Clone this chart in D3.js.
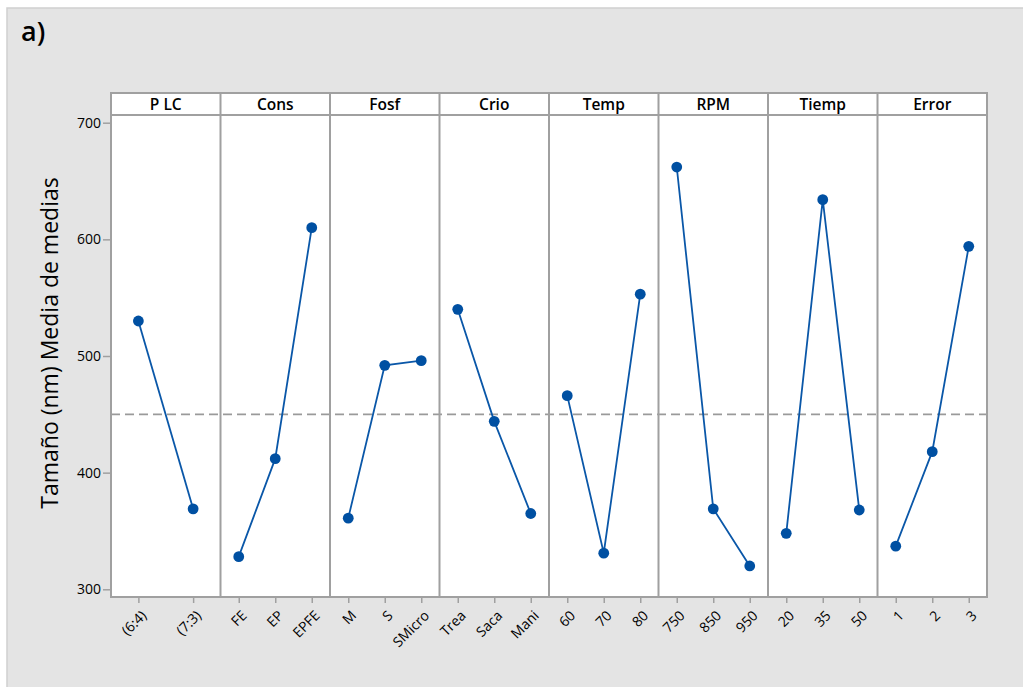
<!DOCTYPE html>
<html>
<head>
<meta charset="utf-8">
<script src="https://cdn.jsdelivr.net/npm/d3@7"></script>
<style>
  html, body { margin: 0; padding: 0; background: #ffffff; }
  svg { display: block; }
  text { font-family: "Open Sans", "Noto Sans", "DejaVu Sans", sans-serif; fill: #000; }
</style>
</head>
<body>
<svg id="chart" width="1023" height="687"></svg>
<script>
// Main effects plot for the mean particle size (nm), one panel per factor
const factorNames = ["P LC", "Cons", "Fosf", "Crio", "Temp", "RPM", "Tiemp", "Error"];

const levelsPLC   = ["(6:4)", "(7:3)"];
const meansPLC    = [530, 369];
const levelsCons  = ["FE", "EP", "EPFE"];
const meansCons   = [328, 412, 610];
const levelsFosf  = ["M", "S", "SMicro"];
const meansFosf   = [361, 492, 496];
const levelsCrio  = ["Trea", "Saca", "Mani"];
const meansCrio   = [540, 444, 365];
const levelsTemp  = ["60", "70", "80"];
const meansTemp   = [466, 331, 553];
const levelsRPM   = ["750", "850", "950"];
const meansRPM    = [662, 369, 320];
const levelsTiemp = ["20", "35", "50"];
const meansTiemp  = [348, 634, 368];
const levelsError = ["1", "2", "3"];
const meansError  = [337, 418, 594];

const grandMean = 450;
const yTicks = [300, 400, 500, 600, 700];
const yDomain = [293.4, 706.6];
const yTitle = "Tamaño (nm) Media de medias";
const panelTag = "a)";

const factorLevels = [levelsPLC, levelsCons, levelsFosf, levelsCrio, levelsTemp, levelsRPM, levelsTiemp, levelsError];
const factorMeans  = [meansPLC, meansCons, meansFosf, meansCrio, meansTemp, meansRPM, meansTiemp, meansError];

const panels = factorNames.map((name, i) => ({
  name,
  points: factorLevels[i].map((lv, j) => ({ level: lv, mean: factorMeans[i][j] }))
}));

// Layout
const W = 1023, H = 687;
const plotLeft = 111, plotRight = 987;
const headerTop = 93, plotTop = 115, plotBottom = 597;

const frameColor = "#a0a0a0";
const lineColor = "#0a57a8";
const dotColor = "#0050a2";
const tickFont = "'Open Sans', 'Noto Sans', sans-serif";

const svg = d3.select("#chart");

// Grey backdrop
svg.append("rect").attr("x", 7).attr("y", 8).attr("width", W).attr("height", H)
  .attr("fill", "#e4e4e4").attr("stroke", "#cfcfcf").attr("stroke-width", 1.5);

svg.append("text").attr("x", 21).attr("y", 41)
  .attr("font-size", 27).attr("font-weight", 600).text(panelTag);

const x = d3.scaleBand().domain(factorNames).range([plotLeft, plotRight]).paddingInner(0).paddingOuter(0);
const y = d3.scaleLinear().domain(yDomain).range([plotBottom, plotTop]);

// Plot background + header strip
svg.append("rect").attr("x", plotLeft).attr("y", headerTop)
  .attr("width", plotRight - plotLeft).attr("height", plotBottom - headerTop).attr("fill", "#ffffff");

// Y axis
const yAxis = svg.append("g").attr("transform", `translate(${plotLeft},0)`)
  .call(d3.axisLeft(y).tickValues(yTicks).tickSize(8).tickPadding(2));
yAxis.select(".domain").remove();
yAxis.selectAll(".tick line").attr("stroke", frameColor).attr("stroke-width", 1.5);
yAxis.selectAll(".tick text").attr("font-size", 14).attr("fill", "#000")
  .attr("font-family", tickFont);

svg.append("text")
  .attr("transform", `translate(58,343) rotate(-90)`)
  .attr("text-anchor", "middle").attr("font-size", 23).text(yTitle);

// Grand-mean reference line
svg.append("line")
  .attr("x1", plotLeft).attr("x2", plotRight)
  .attr("y1", y(grandMean)).attr("y2", y(grandMean))
  .attr("stroke", "#9a9a9a").attr("stroke-width", 1.6).attr("stroke-dasharray", "9,5");

panels.forEach(p => {
  const x0 = x(p.name), bw = x.bandwidth();
  const xp = d3.scalePoint().domain(p.points.map(d => d.level)).range([x0, x0 + bw]).padding(0.5);
  const g = svg.append("g");

  // Header label
  g.append("text").attr("x", x0 + bw / 2).attr("y", headerTop + 16.5)
    .attr("text-anchor", "middle").attr("font-size", 15.5).attr("font-weight", 600).text(p.name);

  // X axis ticks and rotated labels
  const xa = g.append("g").attr("transform", `translate(0,${plotBottom})`)
    .call(d3.axisBottom(xp).tickSize(6).tickSizeOuter(0));
  xa.select(".domain").remove();
  xa.selectAll(".tick line").attr("stroke", frameColor).attr("stroke-width", 1.5);
  xa.selectAll(".tick text")
    .attr("font-size", 14).attr("fill", "#000")
    .attr("font-family", tickFont)
    .attr("text-anchor", "end")
    .attr("dy", "0.35em")
    .attr("y", 0)
    .attr("transform", "translate(5,16) rotate(-45)");

  // Mean line and points
  const line = d3.line().x(d => xp(d.level)).y(d => y(d.mean));
  g.append("path").datum(p.points).attr("d", line)
    .attr("fill", "none").attr("stroke", lineColor).attr("stroke-width", 1.8);
  g.selectAll("circle").data(p.points).join("circle")
    .attr("cx", d => xp(d.level)).attr("cy", d => y(d.mean)).attr("r", 5.4)
    .attr("fill", dotColor);
});

// Frame: header box, panel separators, outer border
const frame = svg.append("g").attr("fill", "none").attr("stroke", frameColor).attr("stroke-width", 2);
frame.append("rect").attr("x", plotLeft).attr("y", headerTop)
  .attr("width", plotRight - plotLeft).attr("height", plotBottom - headerTop);
frame.append("line").attr("x1", plotLeft).attr("x2", plotRight)
  .attr("y1", plotTop).attr("y2", plotTop);
factorNames.slice(1).forEach(n => {
  frame.append("line").attr("x1", x(n)).attr("x2", x(n))
    .attr("y1", headerTop).attr("y2", plotBottom);
});
</script>
</body>
</html>
